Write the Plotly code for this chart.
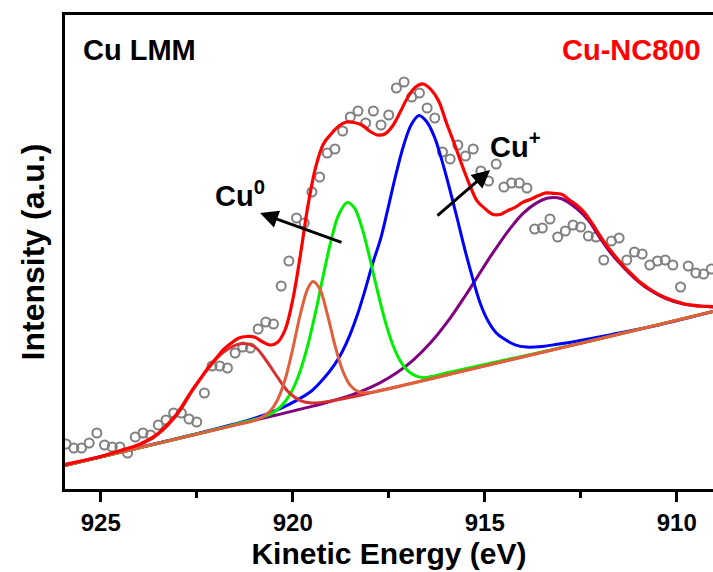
import plotly.graph_objects as go

# ---------------- data ----------------
energy_pts = [925.9, 925.7, 925.5, 925.3, 925.1, 924.9, 924.7, 924.5, 924.3, 924.1,
              923.9, 923.7, 923.5, 923.3, 923.1, 922.9, 922.7, 922.5, 922.3, 922.1,
              921.9, 921.7, 921.5, 921.3, 921.1, 920.9, 920.7, 920.5, 920.3, 920.1,
              919.9, 919.7, 919.5, 919.3, 919.1, 918.9, 918.7, 918.5, 918.3, 918.1,
              917.9, 917.7, 917.5, 917.3, 917.1, 916.9, 916.7, 916.5, 916.3, 916.1,
              915.9, 915.7, 915.5, 915.3, 915.1, 914.9, 914.7, 914.5, 914.3, 914.1,
              913.9, 913.7, 913.5, 913.3, 913.1, 912.9, 912.7, 912.5, 912.3, 912.1,
              911.9, 911.7, 911.5, 911.3, 911.1, 910.9, 910.7, 910.5, 910.3, 910.1,
              909.9, 909.7, 909.5, 909.3, 909.1]
intensity_pts = [46, 42, 42, 47, 57, 45, 43, 43, 37, 53,
                 57, 55, 65, 70, 77, 77, 71, 68, 97, 124,
                 124, 122, 137, 143, 142, 161, 168, 166, 204, 229,
                 272, 267, 298, 313, 337, 341, 359, 373, 379, 367,
                 379, 365, 375, 402, 408, 393, 397, 382, 372, 338,
                 331, 345, 334, 341, 319, 309, 326, 303, 307, 307,
                 302, 261, 262, 271, 253, 259, 265, 263, 254, 253,
                 230, 249, 252, 230, 238, 236, 225, 229, 230, 225,
                 203, 224, 217, 216, 221]

# Cu0 component 1 (dark red, ~921.3 eV)
e_c1 = [926.0, 925.0, 924.5, 924.0, 923.5, 923.0, 922.6, 922.2, 921.8, 921.35,
        921.0, 920.7, 920.4, 920.1, 919.8, 919.5, 919.0, 918.5, 917.0, 914.0, 911.0, 909.05]
v_c1 = [24, 33.5, 39.4, 45, 56, 76, 100, 121.5, 138, 146.3,
        143.5, 130, 113, 97.6, 89.4, 87.1, 89.1, 92.7, 105.9, 133.1, 160.4, 178.5]

# Cu0 component 2 (orange, ~919.5 eV)
e_c2 = [926.0, 923.0, 921.5, 921.0, 920.8, 920.6, 920.4, 920.2, 920.0, 919.8,
        919.6, 919.47, 919.3, 919.1, 918.9, 918.7, 918.5, 918.3, 918.0, 917.5,
        915.0, 912.0, 909.05]
v_c2 = [24, 51.3, 64.9, 69.5, 72.9, 78.4, 89.7, 110.2, 141, 176,
        202, 208.4, 201.4, 176, 144.6, 119.4, 104.6, 98.4, 97.4, 101.3,
        124.1, 151.3, 178.5]

# Cu0 component 3 (green, ~918.6 eV)
e_c3 = [926.0, 923.0, 921.5, 920.6, 920.4, 920.2, 920.0, 919.8, 919.6, 919.4,
        919.2, 919.0, 918.8, 918.58, 918.4, 918.2, 918.0, 917.8, 917.6, 917.4,
        917.2, 917.0, 916.8, 916.6, 916.4, 916.0, 915.0, 914.0, 912.0, 909.05]
v_c3 = [24, 51.3, 65.5, 75.5, 80.4, 88.2, 100.6, 119.6, 145.9, 178.7,
        215.3, 249.6, 275.5, 287.5, 282.5, 262.6, 233, 200.2, 169.9, 145.8,
        129.1, 119.1, 114.2, 112.4, 113.4, 117, 125.6, 133.9, 151.3, 178.5]

# Cu+ component 4 (blue, ~916.7 eV)
e_c4 = [926.0, 923.0, 921.71, 920.91, 920.31, 919.91, 919.51, 919.21, 918.91, 918.71,
        918.51, 918.31, 918.11, 917.91, 917.71, 917.51, 917.31, 917.11, 916.91, 916.71,
        916.51, 916.31, 916.11, 915.91, 915.71, 915.51, 915.31, 915.11, 914.91, 914.71,
        914.51, 914.21, 913.91, 913.51, 913.11, 912.51, 911.71, 910.5, 909.05]
v_c4 = [24, 51.5, 64, 72.8, 81.7, 89.4, 99, 110.7, 125.4, 138.3,
        155.1, 175.9, 200.7, 227.5, 251.4, 283.2, 316, 344.8, 365.6, 374.5,
        368.3, 353.1, 328.9, 300.7, 270.5, 239.4, 211.2, 186, 168.8, 157.6,
        151.4, 145.2, 142.9, 143.5, 145.7, 149.6, 155.4, 164.7, 178.5]

# Cu+ component 5 (purple, ~913.3 eV)
e_c5 = [926.0, 921.0, 919.5, 918.77, 918.25, 917.73, 917.3, 916.87, 916.4, 915.9,
        915.5, 915.2, 914.9, 914.6, 914.3, 914.0, 913.7, 913.35, 913.0, 912.59,
        912.3, 911.99, 911.7, 911.39, 911.0, 910.69, 910.3, 909.83, 909.4, 909.05]
v_c5 = [24, 69.7, 83.6, 91.3, 98.1, 107.2, 116.9, 129.6, 147.7, 171.9,
        194.5, 212.5, 230.6, 247.7, 263.4, 276.6, 285.9, 292, 291.3, 281,
        269.7, 251.5, 236.1, 222.9, 208.5, 199.7, 191.7, 186, 183.9, 183.1]

# fitted envelope (red)
e_env = [926.0, 925.0, 924.5, 924.0, 923.6, 923.4, 923.2, 923.0, 922.8, 922.6,
         922.4, 922.2, 922.0, 921.8, 921.6, 921.4, 921.2, 921.0, 920.8, 920.6,
         920.4, 920.2, 920.0, 919.8, 919.6, 919.4, 919.2, 919.0, 918.8, 918.6,
         918.4, 918.2, 918.0, 917.8, 917.6, 917.4, 917.2, 917.0, 916.8, 916.6,
         916.4, 916.2, 916.0, 915.8, 915.6, 915.4, 915.2, 915.0, 914.8, 914.6,
         914.4, 914.2, 914.0, 913.8, 913.6, 913.4, 913.2, 913.0, 912.8, 912.6,
         912.4, 912.2, 912.0, 911.8, 911.6, 911.4, 911.2, 911.0, 910.8, 910.6,
         910.4, 910.2, 910.0, 909.8, 909.6, 909.4, 909.2, 909.05]
v_env = [25, 33.5, 39.1, 45.5, 53.8, 60.1, 68.1, 77, 88.9, 100.8,
         111.6, 122.5, 131.5, 140.5, 147, 152, 153.5, 153, 148.5, 145,
         147.5, 160, 190, 235, 285.1, 323.2, 346.1, 356, 364, 368,
         367.5, 365, 359, 355, 356, 364, 378, 393, 403, 406,
         400.5, 389, 367.5, 347.2, 325.8, 305.8, 289.2, 281.6, 275.7, 275.5,
         279.4, 282.9, 287.9, 290.8, 294.4, 297.1, 296.6, 295.7, 290.2, 284.7,
         277.2, 266.5, 254.4, 243.2, 233.8, 224.5, 216.9, 209.3, 203.5, 198.5,
         194.3, 191, 188.4, 186, 185, 184, 183.6, 183.3]

x_tick_vals = [925, 920, 915, 910]
x_tick_text = ["925", "920", "915", "910"]

FONT = "Liberation Sans, Arial, Helvetica, sans-serif"

fig = go.Figure()

fig.add_trace(go.Scatter(x=energy_pts, y=intensity_pts, mode="markers",
                         marker=dict(symbol="circle-open", size=9, color="#808080",
                                     line=dict(width=2, color="#808080")),
                         showlegend=False, cliponaxis=True))

comps = [
    (e_c5, v_c5, "#800080"),
    (e_c4, v_c4, "#0000FF"),
    (e_c3, v_c3, "#00EE00"),
    (e_c1, v_c1, "#D83030"),
    (e_c2, v_c2, "#E0603C"),
]
for ex, vy, col in comps:
    fig.add_trace(go.Scatter(x=ex, y=vy, mode="lines",
                             line=dict(color=col, width=3, shape="spline", smoothing=1.0),
                             showlegend=False))

fig.add_trace(go.Scatter(x=e_env, y=v_env, mode="lines",
                         line=dict(color="#FF0000", width=3.2, shape="spline", smoothing=1.0),
                         showlegend=False))

fig.update_layout(
    width=713, height=572,
    margin=dict(l=65, r=0, t=15, b=83),
    paper_bgcolor="white", plot_bgcolor="white",
    font=dict(family=FONT, color="black"),
    xaxis=dict(range=[925.93, 909.055], showgrid=False, zeroline=False,
               showline=True, linecolor="black", linewidth=3, mirror=True,
               ticks="outside", ticklen=10, tickwidth=3, tickcolor="black",
               tickvals=x_tick_vals, ticktext=x_tick_text,
               tickfont=dict(family=FONT, size=24, color="black", weight="bold"),
               minor=dict(tickvals=[922.5, 917.5, 912.5], ticks="outside", ticklen=6,
                          tickwidth=3, tickcolor="black"),
               title=dict(text="<b>Kinetic Energy (eV)</b>",
                          font=dict(family=FONT, size=30, color="black"), standoff=9)),
    yaxis=dict(range=[1, 475], showgrid=False, zeroline=False,
               showline=True, linecolor="black", linewidth=3, mirror=False,
               ticks="", showticklabels=False,
               title=dict(text="<b>Intensity (a.u.)</b>",
                          font=dict(family=FONT, size=32, color="black"), standoff=8)),
    annotations=[
        dict(text="<b>Cu LMM</b>", x=0.024, y=0.965, xref="paper", yref="paper",
             xanchor="left", yanchor="top", showarrow=False,
             font=dict(family=FONT, size=29, color="black")),
        dict(text="<b>Cu-NC800</b>", x=0.984, y=0.965, xref="paper", yref="paper",
             xanchor="right", yanchor="top", showarrow=False,
             font=dict(family=FONT, size=29, color="#FF0000")),
        dict(text="<b>Cu<sup>0</sup></b>", x=921.37, y=296, xref="x", yref="y",
             showarrow=False, font=dict(family=FONT, size=29, color="black")),
        dict(text="<b>Cu<sup>+</sup></b>", x=914.2, y=345, xref="x", yref="y",
             showarrow=False, font=dict(family=FONT, size=29, color="black")),
        dict(text="", x=920.85, y=277, ax=918.69, ay=247, xref="x", yref="y",
             axref="x", ayref="y", showarrow=True, arrowhead=2, arrowsize=1.2,
             arrowwidth=3, arrowcolor="black"),
        dict(text="", x=914.86, y=320, ax=916.27, ay=273, xref="x", yref="y",
             axref="x", ayref="y", showarrow=True, arrowhead=2, arrowsize=1.2,
             arrowwidth=3, arrowcolor="black"),
    ],
)

fig.write_html("out.html")
